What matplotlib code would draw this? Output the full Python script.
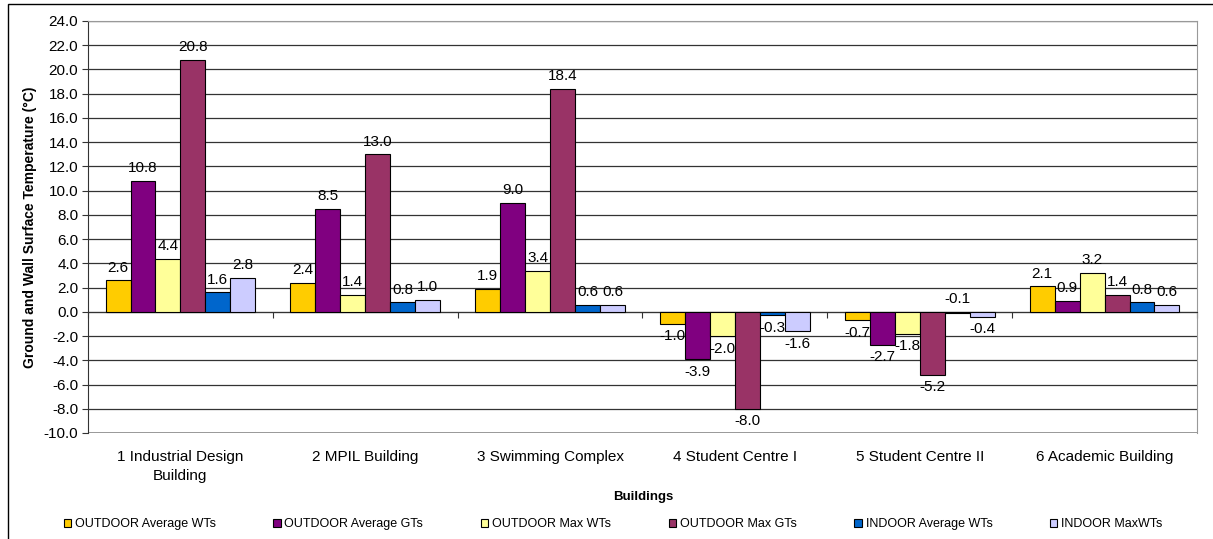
"""Ground and wall surface temperature differences per building (grouped bars)."""
import matplotlib.pyplot as plt
import numpy as np
from matplotlib.patches import Rectangle
from matplotlib.transforms import blended_transform_factory

plt.rcParams["font.family"] = ["Liberation Sans", "DejaVu Sans"]

buildings = ["1 Industrial Design\nBuilding", "2 MPIL Building", "3 Swimming Complex",
             "4 Student Centre I", "5 Student Centre II", "6 Academic Building"]
series_names = ["OUTDOOR Average WTs", "OUTDOOR Average GTs", "OUTDOOR Max WTs",
                "OUTDOOR Max GTs", "INDOOR Average WTs", "INDOOR MaxWTs"]
outdoor_avg_wt = [2.6, 2.4, 1.9, -1.0, -0.7, 2.1]
outdoor_avg_gt = [10.8, 8.5, 9.0, -3.9, -2.7, 0.9]
outdoor_max_wt = [4.4, 1.4, 3.4, -2.0, -1.8, 3.2]
outdoor_max_gt = [20.8, 13.0, 18.4, -8.0, -5.2, 1.4]
indoor_avg_wt = [1.6, 0.8, 0.6, -0.3, -0.1, 0.8]
indoor_max_wt = [2.8, 1.0, 0.6, -1.6, -0.4, 0.6]
y_ticks = np.arange(-10, 25, 2)

colors = ["#FFCC00", "#800080", "#FFFF99", "#993366", "#0066CC", "#CCCCFF"]
series = [outdoor_avg_wt, outdoor_avg_gt, outdoor_max_wt,
          outdoor_max_gt, indoor_avg_wt, indoor_max_wt]

fig = plt.figure(figsize=(12.13, 5.39), dpi=100)
ax = fig.add_axes([88 / 1213, 1 - 433 / 539, (1197 - 88) / 1213, (433 - 21) / 539])

x = np.arange(len(buildings))
width = 0.135
for i, (vals, name, col) in enumerate(zip(series, series_names, colors)):
    pos = x + (i - 2.5) * width
    ax.bar(pos, vals, width, color=col, edgecolor="black", linewidth=0.8,
           label=name, zorder=3)
    for px, v in zip(pos, vals):
        if v >= 0 or v == -0.1:
            ax.annotate(f"{v:.1f}", (px, max(v, 0)), xytext=(0, 4),
                        textcoords="offset points", ha="center", va="bottom",
                        fontsize=11, zorder=4)
        else:
            ax.annotate(f"{v:.1f}", (px, v), xytext=(0, -4),
                        textcoords="offset points", ha="center", va="top",
                        fontsize=11, zorder=4)

ax.set_xlim(-0.5, len(buildings) - 0.5)
ax.set_ylim(-10, 24)
ax.set_yticks(y_ticks)
ax.set_yticklabels([f"{t:.1f}" for t in y_ticks], fontsize=11)
ax.yaxis.grid(True, color="#333333", linewidth=0.9, zorder=0)
ax.tick_params(axis="y", length=4, color="#333333", pad=3)

# zero axis with ticks at the category boundaries
ax.spines["bottom"].set_position(("data", 0))
ax.spines["bottom"].set_color("#333333")
ax.set_xticks(np.arange(len(buildings) + 1) - 0.5)
ax.set_xticklabels([])
ax.tick_params(axis="x", length=4, direction="out", color="#333333")
for s in ["top", "right"]:
    ax.spines[s].set_color("#999999")
ax.spines["left"].set_color("#333333")
ax.axhline(-10, color="#999999", linewidth=1.2, zorder=1)

trans = blended_transform_factory(ax.transData, ax.transAxes)
for xi, name in zip(x, buildings):
    ax.text(xi, -0.042, name, transform=trans, ha="center", va="top",
            fontsize=11, linespacing=1.45)

ax.set_ylabel("Ground and Wall Surface Temperature (°C)", fontsize=10,
              fontweight="bold", labelpad=5)
fig.text(643 / 1213, 1 - 497 / 539, "Buildings", ha="center",
         va="center", fontsize=9.5, fontweight="bold")

fig.legend(loc="center", bbox_to_anchor=(613 / 1213, 1 - 524 / 539),
           ncol=6, frameon=False, fontsize=9, columnspacing=4.6,
           handlelength=0.6, handleheight=0.6, handletextpad=0.3)

fig.patches.append(Rectangle((8 / 1213, -0.01), 1.0, 1 - 4 / 539 + 0.01,
                             transform=fig.transFigure, fill=False,
                             edgecolor="black", linewidth=1))

fig.savefig("out.png", dpi=100)
